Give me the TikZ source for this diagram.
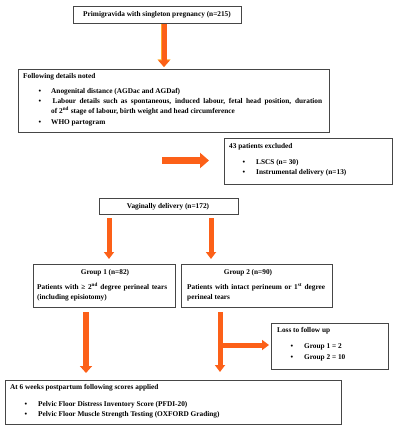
\documentclass[tikz,border=0pt]{standalone}
\usepackage{fontspec}
\setmainfont{Liberation Serif}
\usetikzlibrary{arrows.meta}
\definecolor{arr}{RGB}{252,96,24}
\definecolor{arrrim}{RGB}{255,170,40}
\definecolor{boxline}{RGB}{70,70,70}
\begin{document}
\begin{tikzpicture}[x=1pt,y=-1pt,
  font=\fontsize{7.3}{8.5}\selectfont\bfseries,
  box/.style={draw=boxline,line width=0.9pt,fill=none},
  txt/.style={anchor=base west,inner sep=0pt},
  ctxt/.style={anchor=base,inner sep=0pt},
  bul/.style={anchor=base,inner sep=0pt},
  bigarrow/.style={draw=arr,line width=6pt,-{Triangle[length=7pt,width=12pt]}},
  midarrow/.style={draw=arr,line width=5pt,-{Triangle[length=7pt,width=10pt]}},
]
\useasboundingbox (0,0) rectangle (400,427);
% boxes
\draw[box] (73,6) rectangle (241,23);
\node[ctxt] (t1) at (157,16.5) {Primigravida with singleton pregnancy (n=215)};

\draw[box] (18,69) rectangle (329,132);
\node[txt] (t2) at (23,78.5) {Following details noted};
\node[bul] (u21) at (40,93.5) {•};
\node[txt] (t21) at (51,93.5) {Anogenital distance (AGDac and AGDaf)};
\node[bul] (u22) at (40,104) {•};
\node[txt] (t22) at (51,104) {\makebox[271pt][s]{\hspace{1.5pt}Labour details such as spontaneous, induced labour, fetal head position, duration}};
\node[txt] (t22b) at (51,113.5) {of 2\textsuperscript{nd} stage of labour, birth weight and head circumference};
\node[bul] (u23) at (40,124.5) {•};
\node[txt] (t23) at (51,124.5) {WHO partogram};

\draw[box] (224,138) rectangle (392,184);
\node[txt] (t3) at (229,148.5) {43 patients excluded};
\node[bul] (u31) at (244,164.5) {•};
\node[txt] (t31) at (256,164.5) {LSCS (n= 30)};
\node[bul] (u32) at (244,174.5) {•};
\node[txt] (t32) at (256,174.5) {Instrumental delivery (n=13)};

\draw[box] (99,198) rectangle (238,214);
\node[ctxt] (t4) at (168,208.5) {Vaginally delivery (n=172)};

\draw[box] (33,264) rectangle (175,307);
\node[ctxt] (t5) at (105,274.5) {Group 1 (n=82)};
\node[txt] (t51) at (37,289.5) {\makebox[130pt][s]{Patients with ≥ 2\textsuperscript{nd} degree perineal tears}};
\node[txt] (t52) at (37,299.5) {(including episiotomy)};

\draw[box] (181,264) rectangle (332,307);
\node[ctxt] (t6) at (248,274.5) {Group 2 (n=90)};
\node[txt] (t61) at (187,289.5) {\makebox[138pt][s]{Patients with intact perineum or 1\textsuperscript{st} degree}};
\node[txt] (t62) at (187,299.5) {perineal tears};

\draw[box] (271,323) rectangle (388,369);
\node[txt] (t7) at (277,332.5) {Loss to follow up};
\node[bul] (u71) at (292,348.5) {•};
\node[txt] (t71) at (304,348.5) {Group 1 = 2};
\node[bul] (u72) at (292,359) {•};
\node[txt] (t72) at (304,359) {Group 2 = 10};

\draw[box] (5,380) rectangle (341,424);
\node[txt] (t8) at (10,389.5) {At 6 weeks postpartum following scores applied};
\node[bul] (u81) at (26,406.5) {•};
\node[txt] (t81) at (38,406.5) {Pelvic Floor Distress Inventory Score (PFDI-20)};
\node[bul] (u82) at (26,416.5) {•};
\node[txt] (t82) at (38,416.5) {Pelvic Floor Muscle Strength Testing (OXFORD Grading)};

% arrows
\coordinate (a1s) at (164,24.5);
\coordinate (a1e) at (164,67);
\draw[draw=arrrim,line width=6.5pt,-{Triangle[length=7.5pt,width=12.5pt]}] (a1s) -- (a1e);
\draw[draw=arr,line width=5pt,-{Triangle[length=6.5pt,width=11pt]}] (a1s) -- (a1e);

\coordinate (a2s) at (162,160.5);
\coordinate (a2e) at (209,160.5);
\draw[draw=arr,line width=7pt,-{Triangle[length=9pt,width=15pt]}] (a2s) -- (a2e);

\coordinate (a3s) at (109,218);
\coordinate (a3e) at (109,259);
\draw[midarrow] (a3s) -- (a3e);
\coordinate (a4s) at (211,218);
\coordinate (a4e) at (211,259);
\draw[midarrow] (a4s) -- (a4e);

\coordinate (a5s) at (86,312);
\coordinate (a5e) at (86,373);
\draw[bigarrow] (a5s) -- (a5e);
\coordinate (a6s) at (220,312);
\coordinate (a6e) at (220,372);
\draw[midarrow] (a6s) -- (a6e);
\coordinate (a7s) at (220,345);
\coordinate (a7e) at (269,345);
\draw[midarrow] (a7s) -- (a7e);
\end{tikzpicture}
\end{document}
